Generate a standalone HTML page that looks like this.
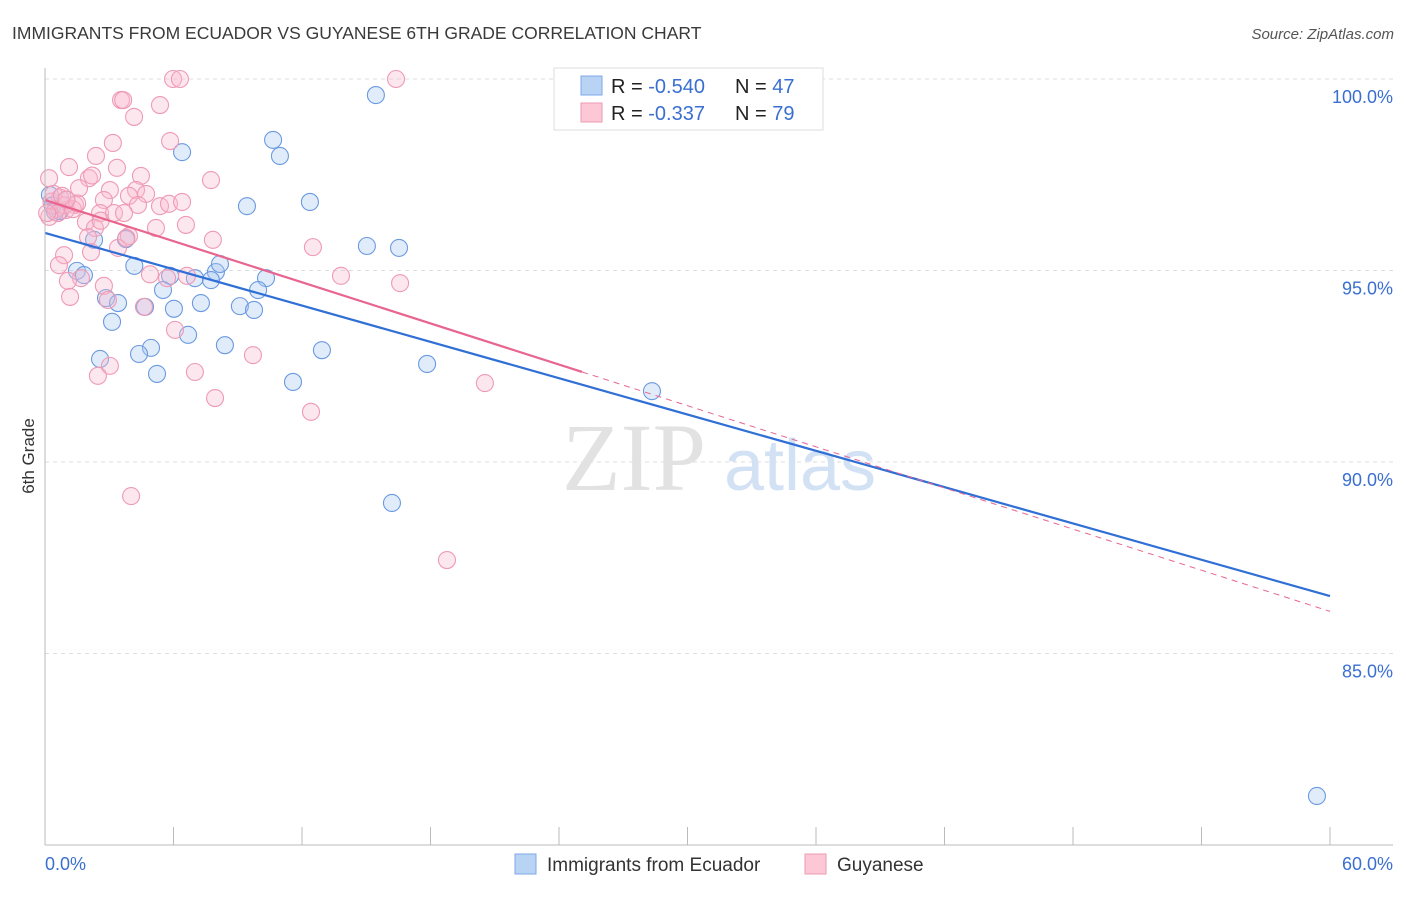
<!DOCTYPE html>
<html><head><meta charset="utf-8"><style>
body{margin:0;background:#fff;width:1406px;height:892px;overflow:hidden;font-family:"Liberation Sans",sans-serif}
</style></head><body>
<svg id="chart" width="1406" height="892" xmlns="http://www.w3.org/2000/svg">
<text x="12" y="39" font-size="17.5" fill="#3a3a3a">IMMIGRANTS FROM ECUADOR VS GUYANESE 6TH GRADE CORRELATION CHART</text>
<text x="1394" y="39" font-size="15" fill="#555" font-style="italic" text-anchor="end">Source: ZipAtlas.com</text>
<text transform="translate(34,456) rotate(-90)" font-size="17" fill="#333" text-anchor="middle">6th Grade</text>
<g id="grid"></g>
<g>
<text x="634" y="490" font-size="96" font-family="Liberation Serif,serif" fill="#e2e2e2" text-anchor="middle">ZIP</text>
<text x="800" y="490" font-size="72" fill="#d3e1f4" text-anchor="middle">atlas</text>
</g>
<g id="pts"></g>
<g id="lines"></g>
<line x1="45" y1="68" x2="45" y2="845" stroke="#bbb"/>
<line x1="45" y1="845" x2="1393" y2="845" stroke="#bbb"/>
<text x="45" y="870" font-size="18" fill="#3a6fd1">0.0%</text>
<text x="1393" y="870" font-size="18" fill="#3a6fd1" text-anchor="end">60.0%</text>
<g>
<rect x="554" y="68" width="269" height="62" fill="#fff" stroke="#ddd"/>
<rect x="581" y="76" width="21" height="19" fill="#b9d3f5" stroke="#7fa8e8"/>
<rect x="581" y="103" width="21" height="19" fill="#fcc8d6" stroke="#ee9ab2"/>
<text x="611" y="93" font-size="20" fill="#222">R = <tspan fill="#3a6fd1">-0.540</tspan></text>
<text x="735" y="93" font-size="20" fill="#222">N = <tspan fill="#3a6fd1">47</tspan></text>
<text x="611" y="120" font-size="20" fill="#222">R = <tspan fill="#3a6fd1"> -0.337</tspan></text>
<text x="735" y="120" font-size="20" fill="#222">N = <tspan fill="#3a6fd1">79</tspan></text>
</g>
<g>
<rect x="515" y="854" width="21" height="20" fill="#b9d3f5" stroke="#7fa8e8"/>
<text x="547" y="871" font-size="19" fill="#333">Immigrants from Ecuador</text>
<rect x="805" y="854" width="21" height="20" fill="#fcc8d6" stroke="#ee9ab2"/>
<text x="837" y="871" font-size="19" fill="#333">Guyanese</text>
</g>
</svg>
<script>
const yTicks=[100,95,90,85];
const yTickLabels=["100.0%","95.0%","90.0%","85.0%"];
const xTicks=[0,6,12,18,24,30,36,42,48,54,60];
const blueX=[15.45,10.65,10.97,6.40,12.37,9.43,15.03,16.53,2.29,3.78,4.17,1.49,1.82,5.84,7.98,8.17,7.00,7.75,10.32,9.95,5.51,2.85,3.41,4.67,6.02,7.28,9.10,9.76,3.13,6.68,8.40,12.93,4.95,4.39,2.57,5.23,11.58,17.84,28.34,16.20,59.39,0.47,0.23,0.7,0.35,1.0,26.3];
const blueY=[99.58,98.41,97.99,98.09,96.79,96.68,95.64,95.59,95.80,95.82,95.12,94.99,94.88,94.86,94.96,95.17,94.80,94.75,94.80,94.49,94.49,94.28,94.15,94.05,94.00,94.15,94.07,93.97,93.66,93.32,93.05,92.92,92.98,92.82,92.69,92.30,92.09,92.56,91.85,88.93,81.28,96.53,96.97,96.55,96.7,96.85,99.55];
const pinkX=[5.98,6.30,16.39,3.55,3.65,5.37,4.16,3.17,5.84,2.38,1.12,3.36,4.48,7.75,2.05,2.2,0.19,1.59,3.03,4.25,2.75,4.72,3.92,5.37,5.79,6.40,4.34,1.40,0.98,2.57,3.22,3.69,1.91,2.33,5.18,6.58,3.92,2.01,7.84,3.41,0.89,12.51,2.15,0.65,1.68,1.07,6.63,13.82,5.70,16.58,2.75,1.17,2.94,4.62,6.07,9.71,3.03,2.47,7.00,20.54,7.94,12.42,4.02,18.77,0.3,0.5,0.7,0.9,0.4,0.6,1.3,0.2,0.8,1.5,2.6,4.9,0.1,1.0,3.8];
const pinkY=[100,100,100,99.45,99.45,99.32,99.01,98.33,98.38,97.99,97.70,97.68,97.47,97.36,97.41,97.48,97.41,97.15,97.10,97.10,96.84,97.00,96.95,96.68,96.74,96.79,96.71,96.71,96.58,96.50,96.50,96.50,96.27,96.11,96.11,96.19,95.90,95.87,95.80,95.59,95.40,95.61,95.48,95.14,94.80,94.73,94.86,94.86,94.80,94.67,94.60,94.31,94.23,94.05,93.45,92.79,92.51,92.25,92.35,92.06,91.67,91.31,89.11,87.44,96.8,96.6,96.9,96.7,97.0,96.5,96.6,96.4,96.95,96.75,96.3,94.9,96.5,96.85,95.85];
const blueTrend=[95.98,-0.158];
const pinkTrend=[96.84,-0.179];
const pinkSolidEnd=25.08;
const X=v=>45+v*(1285/60), Y=v=>79+(100-v)*38.3;
const NS="http://www.w3.org/2000/svg";
function mk(t,a,p){const e=document.createElementNS(NS,t);for(const k in a)e.setAttribute(k,a[k]);p.appendChild(e);return e;}
const grid=document.getElementById('grid');
yTicks.forEach((t,i)=>{
 const l=mk('line',{x1:45,x2:1393,y1:Y(t),y2:Y(t),stroke:'#ddd','stroke-dasharray':'4,4'},grid);
 
 
 const tx=mk('text',{x:1393,y:Y(t)+24,'font-size':18,fill:'#3a6fd1','text-anchor':'end'},grid);
 tx.textContent=yTickLabels[i];
 
 
});
xTicks.forEach(t=>{
 const l=mk('line',{x1:X(t),x2:X(t),y1:827,y2:845,stroke:'#bbb'},grid);
 
 
});
const pts=document.getElementById('pts');
blueX.forEach((x,i)=>{
 const c=mk('circle',{cx:X(x),cy:Y(blueY[i]),r:8.5,fill:'rgba(170,200,240,0.35)',stroke:'#6b9ae0','stroke-width':1.1},pts);
 
 
});
pinkX.forEach((x,i)=>{
 const c=mk('circle',{cx:X(x),cy:Y(pinkY[i]),r:8.5,fill:'rgba(248,185,205,0.35)',stroke:'#ef9ab5','stroke-width':1.1},pts);
 
 
});
const lines=document.getElementById('lines');
const f=(tr,x)=>tr[0]+tr[1]*x;
let l1=mk('line',{x1:X(0),y1:Y(f(blueTrend,0)),x2:X(60),y2:Y(f(blueTrend,60)),stroke:'#2f6fd6','stroke-width':2.2},lines);


let l2=mk('line',{x1:X(0),y1:Y(f(pinkTrend,0)),x2:X(pinkSolidEnd),y2:Y(f(pinkTrend,pinkSolidEnd)),stroke:'#e8658f','stroke-width':2.2},lines);


let l3=mk('line',{x1:X(pinkSolidEnd),y1:Y(f(pinkTrend,pinkSolidEnd)),x2:X(60),y2:Y(f(pinkTrend,60)),stroke:'#e8658f','stroke-width':1,'stroke-dasharray':'6,5'},lines);


</script>
</body></html>
